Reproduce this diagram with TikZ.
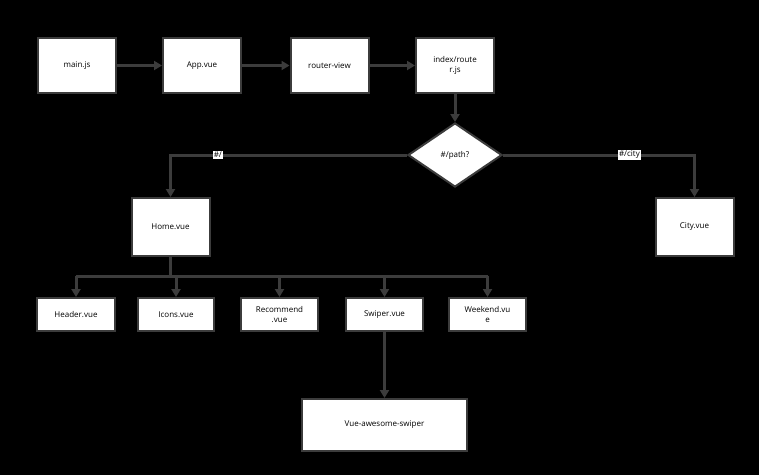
\documentclass[tikz,border=0pt]{standalone}
\usepackage{fontspec}
\setmainfont{Open Sans}
\usetikzlibrary{shapes.geometric,arrows.meta}
\definecolor{ln}{HTML}{3C3C3C}
\begin{document}
\begin{tikzpicture}[x=1pt,y=-1pt,
 box/.style={draw=ln,line width=2pt,fill=white,minimum width=78pt,minimum height=#1,inner sep=1pt,align=center,font=\fontsize{8}{10}\selectfont},
 box/.default=55pt,
 arr/.style={draw=ln,line width=3pt,-{Triangle[length=8pt,width=9pt]}},
 lbl/.style={fill=white,inner sep=1pt,font=\fontsize{8}{9}\selectfont}]
\fill[black] (0,0) rectangle (759,475);
\useasboundingbox (0,0) rectangle (759,475);
\node[box] (main) at (77,65.5) {main.js};
\node[box] (app) at (202,65.5) {App.vue};
\node[box] (rv) at (329.5,65.5) {router-view};
\node[box,text width=74pt] (idx) at (455,65.5) {index/route\\r.js};
\node[diamond,draw=ln,line width=2pt,fill=white,minimum width=94pt,minimum height=64pt,aspect=1.5,inner sep=0pt,font=\fontsize{8}{10}\selectfont] (d) at (455,155) {\#/path?};
\node[box=58pt] (home) at (170.5,227) {Home.vue};
\node[box=58pt] (city) at (694.5,227) {City.vue};
\node[box=33pt] (hd) at (76,314.5) {Header.vue};
\node[box=33pt,minimum width=76pt] (ic) at (176,314.5) {Icons.vue};
\node[box=33pt,minimum width=77pt,text width=70pt] (rc) at (279.5,314.5) {Recommend\\.vue};
\node[box=33pt,minimum width=77pt] (sw) at (384.5,314.5) {Swiper.vue};
\node[box=33pt,minimum width=77pt,text width=70pt] (wk) at (487.5,314.5) {Weekend.vu\\e};
\node[box=52pt,minimum width=165pt] (vas) at (384.5,425) {Vue-awesome-swiper};
\draw[arr] (main) -- (app);
\draw[arr] (app) -- (rv);
\draw[arr] (rv) -- (idx);
\draw[arr] (idx) -- (d);
\draw[arr] (d.west) -| node[lbl,pos=0.4]{\#/} (home.north);
\draw[arr] (d.east) -| node[lbl,pos=0.33]{\#/city} (city.north);
\coordinate (bus) at (170.5,276);
\draw[draw=ln,line width=3pt] (home.south) -- (bus);
\draw[draw=ln,line width=3pt] (hd.north |- bus) -- (wk.north |- bus);
\foreach \n in {hd,ic,rc,sw,wk} \draw[arr] (\n.north |- bus) -- (\n.north);
\draw[arr] (sw) -- (vas);
\end{tikzpicture}
\end{document}
